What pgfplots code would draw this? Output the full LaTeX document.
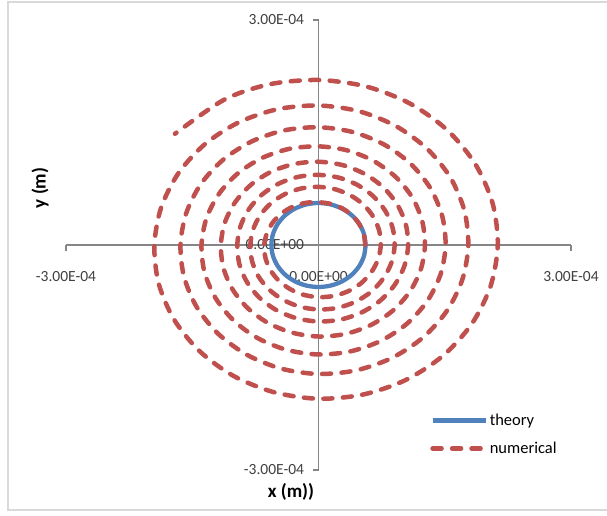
\documentclass[border=0pt]{standalone}
\usepackage{pgfplots}
\pgfplotsset{compat=1.18}
\usepackage{fontspec}
\setmainfont{Carlito}
\definecolor{exblue}{RGB}{79,129,189}
\definecolor{exred}{RGB}{192,80,77}
\definecolor{axgray}{RGB}{134,134,134}
\definecolor{framegray}{RGB}{217,217,217}
\begin{document}
\begin{tikzpicture}
\useasboundingbox (0,0) rectangle (607bp,516bp);
\fill[white] (0,0) rectangle (607bp,516bp);
\draw[framegray, line width=2.5bp] (8bp,6bp) rectangle (614bp,514bp);
\begin{axis}[
  scale only axis, width=505bp, height=450bp,
  at={(66bp,46bp)}, anchor=south west,
  xmin=-3e-4, xmax=3e-4, ymin=-3e-4, ymax=3e-4,
  scaled ticks=false,
  axis lines=middle,
  axis line style={-, axgray, line width=1.3bp},
  tick style={axgray, line width=1.3bp},
  major tick length=6bp, tick align=outside,
  hide obscured x ticks=false, hide obscured y ticks=false,
  xtick={-3e-4,0,3e-4}, ytick={-3e-4,0,3e-4},
  xticklabels={-3.00E-04,0.00E+00,3.00E-04},
  yticklabels={-3.00E-04,0.00E+00,3.00E-04},
  xticklabel style={font=\fontsize{15.5bp}{18bp}\selectfont, text=black!75, yshift=-17bp},
  yticklabel style={font=\fontsize{15.5bp}{18bp}\selectfont, text=black!75, xshift=-5bp},
  xlabel={x (m))}, ylabel={y (m)},
  xlabel style={at={(axis description cs:0.4455,-0.049)}, anchor=center, font=\fontsize{19bp}{22bp}\selectfont\bfseries},
  ylabel style={at={(axis description cs:-0.0515,0.6267)}, anchor=center, rotate=90, font=\fontsize{19bp}{22bp}\selectfont\bfseries},
  legend style={draw=none, fill=none, at={(axis description cs:0.721,0.129)}, anchor=north west,
    font=\fontsize{16.5bp}{19bp}\selectfont, row sep=11bp, inner sep=0pt},
  legend cell align=left,
  legend image code/.code={\draw[#1] (0bp,0bp) -- (53bp,0bp);},
]
\addplot[exblue, line width=4.3bp, smooth, data cs=polar] coordinates {
(0,5.6e-5) (15,5.6e-5) (30,5.6e-5) (45,5.6e-5) (60,5.6e-5) (75,5.6e-5) (90,5.6e-5)
(105,5.6e-5) (120,5.6e-5) (135,5.6e-5) (150,5.6e-5) (165,5.6e-5) (180,5.6e-5)
(195,5.6e-5) (210,5.6e-5) (225,5.6e-5) (240,5.6e-5) (255,5.6e-5) (270,5.6e-5)
(285,5.6e-5) (300,5.6e-5) (315,5.6e-5) (330,5.6e-5) (345,5.6e-5) (360,5.6e-5)
};
\addlegendentry{theory}
\addplot[exred, line width=4.5bp, line cap=round, dash pattern=on 9bp off 10.5bp, smooth, data cs=polar] coordinates {
(0,5.55e-5) (15,5.57e-5) (30,5.59e-5) (45,5.62e-5) (60,5.64e-5) (75,5.67e-5) (90,5.70e-5)
(105,5.82e-5) (120,5.95e-5) (135,6.07e-5) (150,6.20e-5) (165,6.32e-5) (180,6.45e-5)
(195,6.53e-5) (210,6.62e-5) (225,6.70e-5) (240,6.78e-5) (255,6.87e-5) (270,6.95e-5)
(285,7.03e-5) (300,7.10e-5) (315,7.18e-5) (330,7.25e-5) (345,7.33e-5) (360,7.40e-5)
(375,7.46e-5) (390,7.52e-5) (405,7.58e-5) (420,7.63e-5) (435,7.69e-5) (450,7.75e-5)
(465,7.81e-5) (480,7.87e-5) (495,7.93e-5) (510,7.98e-5) (525,8.04e-5) (540,8.10e-5)
(555,8.18e-5) (570,8.27e-5) (585,8.35e-5) (600,8.43e-5) (615,8.52e-5) (630,8.60e-5)
(645,8.68e-5) (660,8.75e-5) (675,8.83e-5) (690,8.90e-5) (705,8.98e-5) (720,9.05e-5)
(735,9.10e-5) (750,9.15e-5) (765,9.20e-5) (780,9.25e-5) (795,9.30e-5) (810,9.35e-5)
(825,9.40e-5) (840,9.45e-5) (855,9.50e-5) (870,9.55e-5) (885,9.60e-5) (900,9.65e-5)
(915,9.74e-5) (930,9.83e-5) (945,9.93e-5) (960,1.002e-4) (975,1.011e-4) (990,1.020e-4)
(1005,1.028e-4) (1020,1.035e-4) (1035,1.043e-4) (1050,1.050e-4) (1065,1.058e-4) (1080,1.065e-4)
(1095,1.073e-4) (1110,1.080e-4) (1125,1.088e-4) (1140,1.095e-4) (1155,1.103e-4) (1170,1.110e-4)
(1185,1.118e-4) (1200,1.127e-4) (1215,1.135e-4) (1230,1.143e-4) (1245,1.152e-4) (1260,1.160e-4)
(1275,1.170e-4) (1290,1.180e-4) (1305,1.190e-4) (1320,1.200e-4) (1335,1.210e-4) (1350,1.220e-4)
(1365,1.228e-4) (1380,1.235e-4) (1395,1.243e-4) (1410,1.250e-4) (1425,1.258e-4) (1440,1.265e-4)
(1455,1.273e-4) (1470,1.282e-4) (1485,1.290e-4) (1500,1.298e-4) (1515,1.307e-4) (1530,1.315e-4)
(1545,1.328e-4) (1560,1.340e-4) (1575,1.353e-4) (1590,1.365e-4) (1605,1.378e-4) (1620,1.390e-4)
(1635,1.402e-4) (1650,1.413e-4) (1665,1.425e-4) (1680,1.437e-4) (1695,1.448e-4) (1710,1.460e-4)
(1725,1.468e-4) (1740,1.477e-4) (1755,1.485e-4) (1770,1.493e-4) (1785,1.502e-4) (1800,1.510e-4)
(1815,1.520e-4) (1830,1.530e-4) (1845,1.540e-4) (1860,1.550e-4) (1875,1.560e-4) (1890,1.570e-4)
(1905,1.582e-4) (1920,1.593e-4) (1935,1.605e-4) (1950,1.617e-4) (1965,1.628e-4) (1980,1.640e-4)
(1995,1.653e-4) (2010,1.667e-4) (2025,1.680e-4) (2040,1.693e-4) (2055,1.707e-4) (2070,1.720e-4)
(2085,1.730e-4) (2100,1.740e-4) (2115,1.750e-4) (2130,1.760e-4) (2145,1.770e-4) (2160,1.780e-4)
(2175,1.793e-4) (2190,1.807e-4) (2205,1.820e-4) (2220,1.833e-4) (2235,1.847e-4) (2250,1.860e-4)
(2265,1.875e-4) (2280,1.890e-4) (2295,1.905e-4) (2310,1.920e-4) (2325,1.935e-4) (2340,1.950e-4)
(2355,1.967e-4) (2370,1.983e-4) (2385,2.000e-4) (2400,2.017e-4) (2415,2.033e-4) (2430,2.050e-4)
(2445,2.063e-4) (2460,2.077e-4) (2475,2.090e-4) (2490,2.103e-4) (2505,2.117e-4) (2520,2.130e-4)
(2535,2.142e-4) (2550,2.153e-4) (2565,2.165e-4) (2580,2.177e-4) (2595,2.188e-4) (2610,2.200e-4)
(2625,2.220e-4) (2640,2.238e-4) (2659,2.260e-4)
};
\addlegendentry{numerical}
\end{axis}
\end{tikzpicture}
\end{document}
